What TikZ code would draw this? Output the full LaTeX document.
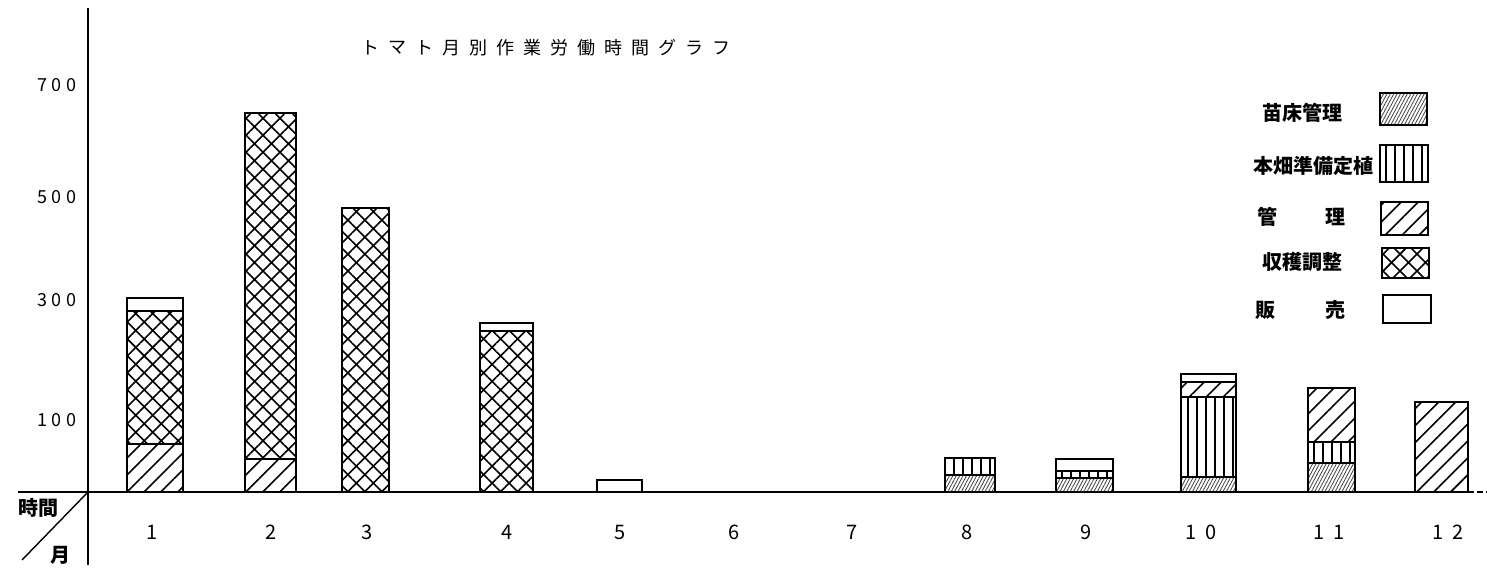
\documentclass[tikz,border=0pt]{standalone}
\usepackage{fontspec}
\setmainfont{Noto Sans CJK JP}
\usetikzlibrary{patterns.meta}
\tikzset{
  axisline/.style={line width=2pt},
  bar/.style={draw, line width=2.2pt},
  diag/.style={pattern={Lines[angle=45,distance=12pt,line width=1.6pt]}},
  cross/.style={pattern={Hatch[angle=45,distance=12pt,line width=1.6pt]}},
  vert/.style={pattern={Lines[angle=90,distance=9pt,line width=1.6pt]}},
  fine/.style={pattern={Lines[angle=62,distance=3pt,line width=0.8pt]}, pattern color=black!75},
  blank/.style={fill=white},
  ttl/.style={inner sep=0pt, font=\fontsize{18}{18}\selectfont},
  ylab/.style={inner sep=0pt, font=\fontsize{18}{18}\selectfont},
  mlab/.style={inner sep=0pt, font=\fontsize{20}{20}\selectfont},
  leg/.style={inner sep=0pt, font=\fontsize{20}{20}\selectfont\bfseries},
}
\begin{document}
\begin{tikzpicture}[x=1pt,y=-1pt]
\useasboundingbox[fill=white] (0,0) rectangle (1487,568);
% axes
\draw[axisline] (88,8) -- (88,565);
\draw[axisline] (18,492) -- (1468,492);
\draw[axisline, dash pattern=on 6pt off 3pt] (1468,492) -- (1487,492);
\draw[line width=1.4pt] (88,492) -- (22,560);
\node[leg] (jikan) at (38,508) {時間};
\node[leg] (tsuki) at (60,555) {月};
% y labels
\node[ylab] (y700) at (57,85) {7\hspace{5pt}0\hspace{5pt}0};
\node[ylab] (y500) at (57,197) {5\hspace{5pt}0\hspace{5pt}0};
\node[ylab] (y300) at (57,300) {3\hspace{5pt}0\hspace{5pt}0};
\node[ylab] (y100) at (57,420) {1\hspace{5pt}0\hspace{5pt}0};
% month labels
\node[mlab] (m1) at (152,532) {1};
\node[mlab] (m2) at (271,532) {2};
\node[mlab] (m3) at (367,532) {3};
\node[mlab] (m4) at (507,532) {4};
\node[mlab] (m5) at (620,532) {5};
\node[mlab] (m6) at (734,532) {6};
\node[mlab] (m7) at (852,532) {7};
\node[mlab] (m8) at (967,532) {8};
\node[mlab] (m9) at (1086,532) {9};
\node[mlab] (m10) at (1201,532) {1\hspace{9pt}0};
\node[mlab] (m11) at (1329,532) {1\hspace{9pt}1};
\node[mlab] (m12) at (1448,532) {1\hspace{9pt}2};
% title
\foreach \ch [count=\i] in {ト,マ,ト,月,別,作,業,労,働,時,間,グ,ラ,フ}
  \node[ttl] (title\i) at ({370+27*(\i-1)},48) {\ch};
% bars
% 1
\draw[bar,blank] (127,298) rectangle (183,311);
\draw[bar,cross] (127,311) rectangle (183,444);
\draw[bar,diag] (127,444) rectangle (183,492);
% 2
\draw[bar,cross] (245,113) rectangle (296,459);
\draw[bar,diag] (245,459) rectangle (296,492);
% 3
\draw[bar,cross] (342,208) rectangle (389,492);
% 4
\draw[bar,blank] (480,323) rectangle (533,331);
\draw[bar,cross] (480,331) rectangle (533,492);
% 5
\draw[bar,blank] (597,480) rectangle (642,492);
% 8
\draw[bar,vert] (945,458) rectangle (995,475);
\draw[bar,fine] (945,475) rectangle (995,492);
% 9
\draw[bar,blank] (1056,459) rectangle (1113,471);
\draw[bar,vert] (1056,471) rectangle (1113,478);
\draw[bar,fine] (1056,478) rectangle (1113,492);
% 10
\draw[bar,blank] (1181,374) rectangle (1236,382);
\draw[bar,diag] (1181,382) rectangle (1236,397);
\draw[bar,vert] (1181,397) rectangle (1236,477);
\draw[bar,fine] (1181,477) rectangle (1236,492);
% 11
\draw[bar,diag] (1308,388) rectangle (1355,442);
\draw[bar,vert] (1308,442) rectangle (1355,463);
\draw[bar,fine] (1308,463) rectangle (1355,492);
% 12
\draw[bar,diag] (1415,402) rectangle (1468,492);
% legend
\node[leg] (l1) at (1302,113) {苗床管理};
\draw[bar,fine] (1380,93) rectangle (1427,125);
\node[leg] (l2) at (1313,166) {本畑準備定植};
\draw[bar,vert] (1380,145) rectangle (1428,182);
\node[leg] (l3a) at (1267,217) {管};
\node[leg] (l3b) at (1335,217) {理};
\draw[bar,diag] (1381,202) rectangle (1428,235);
\node[leg] (l4) at (1302,262) {収穫調整};
\draw[bar,cross] (1382,248) rectangle (1429,278);
\node[leg] (l5a) at (1265,310) {販};
\node[leg] (l5b) at (1335,310) {売};
\draw[bar,blank] (1383,295) rectangle (1431,323);
\end{tikzpicture}
\end{document}
